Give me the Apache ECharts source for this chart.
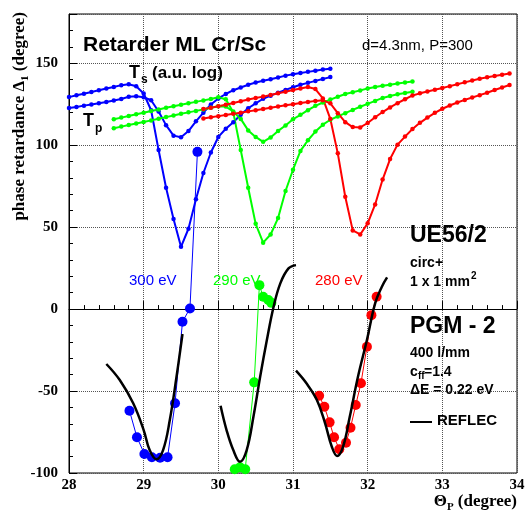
<!DOCTYPE html>
<html><head><meta charset="utf-8">
<script src="https://cdn.jsdelivr.net/npm/echarts@6.0.0/dist/echarts.min.js"></script>
<style>html,body{margin:0;padding:0;background:#fff}#c{width:528px;height:516px}</style>
</head><body><div id="c"></div>
<script>
// ---------- data ----------
const xTicks = [28, 29, 30, 31, 32, 33, 34];
const yTicks = [-100, -50, 0, 50, 100, 150];

// upper curves: Ts / Tp (a.u. log) for each energy
const thetaBlue = [28.0,28.1,28.2,28.3,28.4,28.5,28.6,28.7,28.8,28.9,29.0,29.1,29.2,29.3,29.4,29.5,29.6,29.7,29.8,29.9,30.0,30.1,30.2,30.3,30.4,30.5,30.6,30.7,30.8,30.9,31.0,31.1,31.2,31.3,31.4,31.5];
const tsBlue = [129.3,130.4,131.4,132.4,133.5,134.5,135.5,136.6,137.1,135.9,131.5,121.3,97,74,55,38,49,67,83,95.5,105,110,114,118.5,122.5,125.5,128.3,130.2,132,133.7,135.3,136.8,138,139.2,140.4,141.5];
const tpBlue = [122.6,123.3,124.1,124.8,125.5,126.3,127.2,128.2,129.5,129.8,129.2,127.4,120.5,112.2,105.8,104.8,108.6,114.5,119.8,124.8,128.5,131.2,133.5,135.2,136.8,138.2,139.3,140.2,141.3,142.4,143.3,144,144.7,145.4,146.1,146.6];

const thetaGreen = [28.6,28.7,28.8,28.9,29.0,29.1,29.2,29.3,29.4,29.5,29.6,29.7,29.8,29.9,30.0,30.1,30.2,30.3,30.4,30.5,30.6,30.7,30.8,30.9,31.0,31.1,31.2,31.3,31.4,31.5,31.6,31.7,31.8,31.9,32.0,32.1,32.2,32.3,32.4,32.5,32.6];
const tsGreen = [115.8,116.8,117.8,118.8,119.8,120.8,121.8,122.8,123.7,124.6,125.5,126.4,127.3,128.2,129.2,128,120,97,74,52,40.5,45.5,55.5,72,85,96.5,103,108.3,112.5,115.5,117.5,119.5,121.5,123.4,125.2,127,128.8,130,131,131.8,132.6];
const tpGreen = [110.3,111.3,112.3,113.2,114.1,115.1,116.1,117.1,118.1,119.1,120,120.9,121.8,122.8,123.7,123.5,120.5,116,109,105,102,104.7,108.7,112,115.8,118.5,121.3,124,126,127.8,129.5,131.2,132.3,133.4,134.5,135.5,136.2,136.9,137.6,138.2,138.8];

const thetaRed = [29.8,29.9,30.0,30.1,30.2,30.3,30.4,30.5,30.6,30.7,30.8,30.9,31.0,31.1,31.2,31.3,31.4,31.5,31.6,31.7,31.8,31.9,32.0,32.1,32.2,32.3,32.4,32.5,32.6,32.7,32.8,32.9,33.0,33.1,33.2,33.3,33.4,33.5,33.6,33.7,33.8,33.9];
const tsRed = [122,122.8,123.7,124.7,125.7,126.8,127.8,128.7,129.6,130.6,131.6,132.6,133.6,134.6,135.5,134.2,128.5,116,95,68.5,48,45.5,52.3,63.8,79,91.5,100.3,105.2,109.8,113.6,116.8,119.7,122.2,124.2,126,127.6,129.1,130.5,132,133.6,135.2,136.7];
const tpRed = [116.2,117,117.7,118.4,119.1,119.8,120.6,121.3,122,122.8,123.6,124.3,125,125.7,126.3,127,127.4,125.5,119.5,114,111,110.8,113.5,117,120.2,123,125.6,128,130.3,131.6,132.7,133.8,134.9,136,137.2,138.3,139.4,140.5,141.4,142.2,143,143.7];

// measured phase retardance
const measBlueX = [28.81,28.91,29.01,29.11,29.22,29.32,29.42,29.52,29.62,29.72];
const measBlueY = [-62.0,-78.2,-88.4,-90.4,-90.7,-90.4,-57.5,-7.7,0.4,95.9];
const measGreenX = [30.22,30.29,30.36,30.48,30.55,30.60,30.67,30.71];
const measGreenY = [-97.7,-96.5,-97.7,-44.7,14.6,7.5,5.5,3.8];
const measRedX = [31.35,31.42,31.49,31.55,31.62,31.71,31.77,31.84,31.91,31.99,32.05,32.12];
const measRedY = [-52.9,-59.6,-69.1,-78.2,-85.5,-81.5,-72.4,-58.5,-45.3,-23,-3.7,7.5];

// REFLEC calculation
const reflecBlueX = [28.50,28.68,28.86,29.00,29.08,29.17,29.26,29.35,29.44,29.52];
const reflecBlueY = [-33.5,-43.3,-57.5,-73.8,-86,-91.6,-86,-67.7,-41.3,-15.2];
const reflecGreenX = [30.03,30.11,30.20,30.29,30.38,30.47,30.56,30.65,30.74,30.83,30.94,31.04];
const reflecGreenY = [-59,-73.8,-86,-93.1,-86,-65.7,-41.3,-18.9,1.4,15.7,24.8,26.8];
const reflecRedX = [31.04,31.18,31.32,31.43,31.52,31.59,31.67,31.76,31.87,31.99,32.10,32.19,32.26];
const reflecRedY = [-37.6,-45.3,-55.5,-69.7,-84,-89.6,-84,-65.7,-41.3,-18.9,3.5,13.6,19.3];

// ---------- chart ----------
const zip = (xs, ys) => xs.map((x, i) => [x, ys[i]]);
const BLUE = '#0000ff', GREEN = '#00ff00', RED = '#ff0000';
const SANS = '"Liberation Sans", Arial, sans-serif';
const SERIF = '"Liberation Serif", "Times New Roman", serif';

function upper(xs, ys, color) {
  return { type: 'line', data: zip(xs, ys), symbol: 'circle', symbolSize: 4.5,
    itemStyle: { color: color }, lineStyle: { color: color, width: 2 }, z: 3 };
}
function meas(xs, ys, color) {
  return { type: 'line', data: zip(xs, ys), symbol: 'circle', symbolSize: 10,
    itemStyle: { color: color }, lineStyle: { color: color, width: 1 }, z: 4 };
}
function reflec(xs, ys) {
  return { type: 'line', data: zip(xs, ys), symbol: 'none', smooth: 0.4,
    lineStyle: { color: '#000', width: 2.5 }, z: 5 };
}

const mctx = document.createElement('canvas').getContext('2d');
function tw(s, font) { mctx.font = font; return mctx.measureText(s).width; }

function txt(x, y, text, font, fill, extra) {
  return Object.assign({ type: 'text', x: x, y: y, z: 100,
    style: { text: text, font: font, fill: fill || '#000', textAlign: 'left', align: 'left',
      textVerticalAlign: 'middle', verticalAlign: 'middle' } }, extra || {});
}

const graphics = [];
// title texts
graphics.push(txt(83, 45, 'Retarder ML Cr/Sc', 'bold 21px ' + SANS));
graphics.push(txt(362, 46, 'd=4.3nm, P=300', '15px ' + SANS));
graphics.push(txt(129, 73, 'T', 'bold 18px ' + SANS));
graphics.push(txt(141, 80, 's', 'bold 12px ' + SANS));
graphics.push(txt(152, 73, '(a.u. log)', 'bold 17px ' + SANS));
graphics.push(txt(83, 121, 'T', 'bold 18px ' + SANS));
graphics.push(txt(95, 129, 'p', 'bold 12px ' + SANS));
graphics.push(txt(129, 281, '300 eV', '15px ' + SANS, BLUE));
graphics.push(txt(213, 281, '290 eV', '15px ' + SANS, GREEN));
graphics.push(txt(315, 281, '280 eV', '15px ' + SANS, RED));
graphics.push(txt(410, 236, 'UE56/2', 'bold 23px ' + SANS));
graphics.push(txt(410, 263, 'circ+', 'bold 14px ' + SANS));
graphics.push(txt(410, 282, '1 x 1 mm', 'bold 14px ' + SANS));
graphics.push(txt(410 + tw('1 x 1 mm', 'bold 14px ' + SANS) + 1, 276, '2', 'bold 10px ' + SANS));
graphics.push(txt(410, 327, 'PGM - 2', 'bold 23px ' + SANS));
graphics.push(txt(410, 353, '400 l/mm', 'bold 14px ' + SANS));
graphics.push(txt(410, 372, 'c', 'bold 14px ' + SANS));
graphics.push(txt(418, 376, 'ff', 'bold 10px ' + SANS));
graphics.push(txt(424, 372, '=1.4', 'bold 14px ' + SANS));
graphics.push(txt(410, 390, '\u0394E = 0.22 eV', 'bold 14px ' + SANS));
graphics.push({ type: 'line', z: 100, shape: { x1: 410, y1: 422, x2: 432, y2: 422 }, style: { stroke: '#000', lineWidth: 2 } });
graphics.push(txt(437, 421, 'REFLEC', 'bold 15px ' + SANS));

// y axis title (rotated, reading bottom to top, ending near the top)
(function () {
  const fBig = 'bold 17px ' + SERIF, fSmall = 'bold 11px ' + SERIF;
  const a = 'phase retardance \u0394', b = '1', c = ' (degree)';
  const wa = tw(a, fBig), wb = tw(b, fSmall), wc = tw(c, fBig);
  const top = 12, xc = 20;
  const y0 = top + wa + wb + wc;
  graphics.push(txt(xc, y0, a, fBig, '#000', { rotation: Math.PI / 2 }));
  graphics.push(txt(xc + 5, y0 - wa, b, fSmall, '#000', { rotation: Math.PI / 2 }));
  graphics.push(txt(xc, y0 - wa - wb, c, fBig, '#000', { rotation: Math.PI / 2 }));
})();
// x axis title
(function () {
  const fBig = 'bold 17px ' + SERIF, fSmall = 'bold 11px ' + SERIF;
  const a = '\u0398', b = 'P', c = ' (degree)';
  const wa = tw(a, fBig), wb = tw(b, fSmall), wc = tw(c, fBig);
  const right = 517, yc = 502;
  const x0 = right - wa - wb - wc;
  graphics.push(txt(x0, yc, a, fBig));
  graphics.push(txt(x0 + wa, yc + 5, b, fSmall));
  graphics.push(txt(x0 + wa + wb, yc, c, fBig));
})();

const axisLabelStyle = { fontFamily: SERIF, fontWeight: 'bold', fontSize: 15, color: '#000' };

const option = {
  animation: false,
  backgroundColor: '#fff',
  grid: { left: 69, right: 11, top: 14, bottom: 43, show: true, borderColor: '#000', borderWidth: 1, backgroundColor: 'transparent' },
  xAxis: {
    type: 'value', min: xTicks[0], max: xTicks[xTicks.length - 1], interval: 1,
    axisLine: { show: true, lineStyle: { color: '#000', width: 1 } },
    axisTick: { show: true, inside: true, length: 8, lineStyle: { color: '#000' } },
    minorTick: { show: true, splitNumber: 5, length: 4, lineStyle: { color: '#000' } },
    splitLine: { show: true, lineStyle: { type: 'dotted', color: '#555', width: 1 } },
    axisLabel: Object.assign({ margin: 5, formatter: v => xTicks.includes(v) ? String(v) : '' }, axisLabelStyle)
  },
  yAxis: [{
    type: 'value', min: -100, max: 180, interval: 50, position: 'left',
    axisLine: { show: true, lineStyle: { color: '#000', width: 1 } },
    axisTick: { show: true, inside: true, length: 8, lineStyle: { color: '#000' } },
    splitLine: { show: true, lineStyle: { type: 'dotted', color: '#555', width: 1 } },
    axisLabel: Object.assign({ margin: 11, formatter: v => yTicks.includes(v) ? String(v) : '' }, axisLabelStyle)
  }, {
    type: 'value', min: -100, max: 180, interval: 10, position: 'left',
    axisLine: { show: false },
    axisTick: { show: true, inside: true, length: 4, lineStyle: { color: '#000' } },
    splitLine: { show: false }, axisLabel: { show: false }
  }],
  series: [
    upper(thetaBlue, tsBlue, BLUE), upper(thetaBlue, tpBlue, BLUE),
    upper(thetaGreen, tsGreen, GREEN), upper(thetaGreen, tpGreen, GREEN),
    upper(thetaRed, tsRed, RED), upper(thetaRed, tpRed, RED),
    meas(measBlueX, measBlueY, BLUE), meas(measGreenX, measGreenY, GREEN), meas(measRedX, measRedY, RED),
    reflec(reflecBlueX, reflecBlueY), reflec(reflecGreenX, reflecGreenY), reflec(reflecRedX, reflecRedY)
  ],
  graphic: graphics
};
const chart = echarts.init(document.getElementById('c'), null, { renderer: 'canvas' });
chart.setOption(option);
</script></body></html>
